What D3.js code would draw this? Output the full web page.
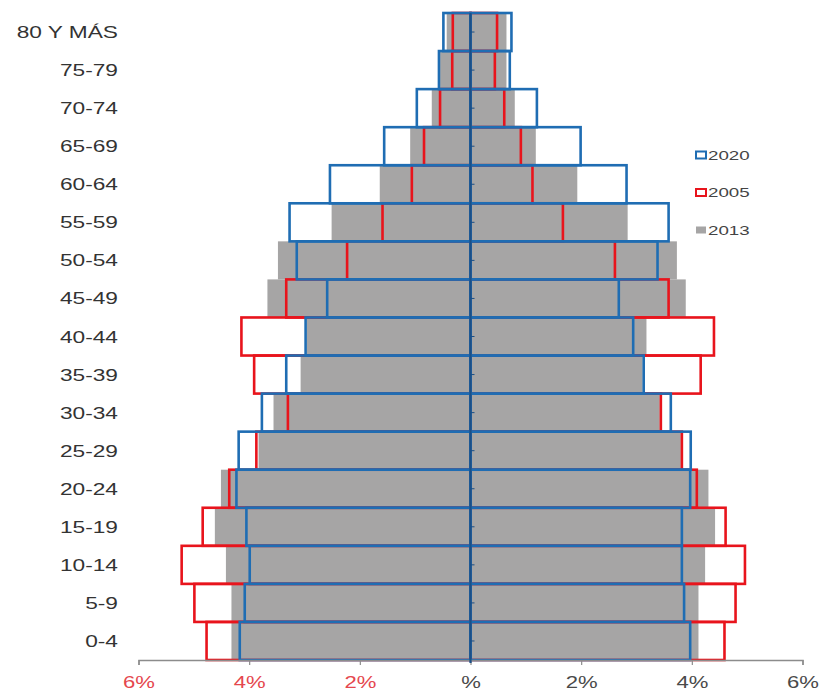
<!DOCTYPE html>
<html>
<head>
<meta charset="utf-8">
<script src="https://cdn.jsdelivr.net/npm/d3@7"></script>
<style>
  html, body { margin: 0; padding: 0; background: #ffffff; }
  svg { display: block; }
  text { font-family: "Liberation Sans", Arial, sans-serif; }
</style>
</head>
<body>
<svg id="chart" width="819" height="692"></svg>
<script>
// Age groups, bottom to top
const categories = ["0-4","5-9","10-14","15-19","20-24","25-29","30-34","35-39","40-44","45-49","50-54","55-59","60-64","65-69","70-74","75-79","80 Y MÁS"];

// Left side (percent of population)
const left2013 = [4.32, 4.32, 4.42, 4.62, 4.51, 3.83, 3.56, 3.07, 2.96, 3.67, 3.48, 2.51, 1.64, 1.09, 0.70, 0.55, 0.43];
const left2005 = [4.77, 4.99, 5.22, 4.84, 4.36, 3.87, 3.30, 3.91, 4.14, 3.33, 2.23, 1.59, 1.06, 0.84, 0.55, 0.33, 0.32];
const left2020 = [4.17, 4.08, 3.99, 4.05, 4.23, 4.19, 3.77, 3.33, 2.98, 2.59, 3.14, 3.27, 2.54, 1.56, 0.97, 0.57, 0.49];

// Right side (percent of population)
const right2013 = [4.12, 4.12, 4.24, 4.42, 4.30, 3.80, 3.42, 3.11, 3.18, 3.89, 3.73, 2.84, 1.93, 1.18, 0.80, 0.65, 0.65];
const right2005 = [4.59, 4.79, 4.96, 4.61, 4.09, 3.82, 3.44, 4.16, 4.40, 3.58, 2.61, 1.67, 1.12, 0.91, 0.61, 0.44, 0.48];
const right2020 = [3.97, 3.86, 3.82, 3.82, 3.97, 3.98, 3.62, 3.13, 2.94, 2.68, 3.38, 3.58, 2.82, 1.99, 1.20, 0.71, 0.74];

const xTicks = [-6, -4, -2, 0, 2, 4, 6];
const xTickLabels = ["6%", "4%", "2%", "%", "2%", "4%", "6%"];
const legendLabels = ["2020", "2005", "2013"];

const svg = d3.select("#chart");

const x = d3.scaleLinear().domain([-6, 6]).range([138.5, 802.5]);
const y = d3.scaleBand().domain(categories).range([660, 13]).paddingInner(0).paddingOuter(0);

const GRAY = "#a6a5a5", RED = "#e8141c", BLUE = "#1f6db3";

function rows(leftVals, rightVals) {
  const out = [];
  categories.forEach((c, i) => {
    out.push({c, x0: -leftVals[i], x1: 0});
    out.push({c, x0: 0, x1: rightVals[i]});
  });
  return out;
}

// 2013 gray fill
svg.append("g").selectAll("rect").data(rows(left2013, right2013)).join("rect")
  .attr("x", d => x(d.x0)).attr("width", d => x(d.x1) - x(d.x0))
  .attr("y", d => y(d.c)).attr("height", y.bandwidth())
  .attr("fill", GRAY);

// 2005 red outlines
svg.append("g").selectAll("rect").data(rows(left2005, right2005)).join("rect")
  .attr("x", d => x(d.x0)).attr("width", d => x(d.x1) - x(d.x0))
  .attr("y", d => y(d.c)).attr("height", y.bandwidth())
  .attr("fill", "none").attr("stroke", RED).attr("stroke-width", 2.6);

// 2020 blue outlines
svg.append("g").selectAll("rect").data(rows(left2020, right2020)).join("rect")
  .attr("x", d => x(d.x0)).attr("width", d => x(d.x1) - x(d.x0))
  .attr("y", d => y(d.c)).attr("height", y.bandwidth())
  .attr("fill", "none").attr("stroke", BLUE).attr("stroke-width", 2.6);

// X axis
const xAxis = d3.axisBottom(x).tickValues(xTicks).tickSize(5).tickFormat((d, i) => xTickLabels[i]);
const gx = svg.append("g").attr("transform", "translate(0,660)").call(xAxis);
gx.select(".domain").attr("stroke", "#8c8c8c").attr("stroke-width", 1.5);
gx.selectAll(".tick line").attr("stroke", "#8c8c8c").attr("stroke-width", 1.2);
gx.selectAll(".tick text")
  .attr("y", 0).attr("dy", 0)
  .attr("transform", "translate(0,28) scale(1.3,1)")
  .attr("font-size", 17)
  .attr("fill", (d) => d < 0 ? "#e5474e" : "#4a4a4a");

// Center vertical axis with ticks at band centers
const yAxis = d3.axisRight(y).tickSize(4).tickFormat("");
const gy = svg.append("g").attr("transform", `translate(${x(0)},0)`).call(yAxis);
gy.select(".domain").attr("stroke", "#1b4f86").attr("stroke-width", 2.2).attr("d", `M0,13V663`);
gy.selectAll(".tick line").attr("stroke", "#1b4f86").attr("stroke-width", 1);

// Category labels on the left
svg.append("g").selectAll("text").data(categories).join("text")
  .attr("transform", d => `translate(118,${y(d) + y.bandwidth() / 2 + 6}) scale(1.42,1)`)
  .attr("text-anchor", "end")
  .attr("font-size", 16)
  .attr("fill", "#333333")
  .text(d => d);

// Legend
const legendColors = [
  {stroke: BLUE, fill: "none"},
  {stroke: RED, fill: "none"},
  {stroke: "none", fill: GRAY}
];
const ly = d3.scalePoint().domain(legendLabels).range([155, 230]);
const lg = svg.append("g").selectAll("g").data(legendLabels).join("g")
  .attr("transform", d => `translate(696,${ly(d)})`);
lg.append("rect")
  .attr("x", 0).attr("y", -3.5).attr("width", 10).attr("height", 7)
  .attr("fill", (d, i) => legendColors[i].fill)
  .attr("stroke", (d, i) => legendColors[i].stroke)
  .attr("stroke-width", 2);
lg.append("text")
  .attr("transform", "translate(12,4.5) scale(1.5,1)")
  .attr("font-size", 12.5)
  .attr("fill", "#444444")
  .text(d => d);
</script>
</body>
</html>
